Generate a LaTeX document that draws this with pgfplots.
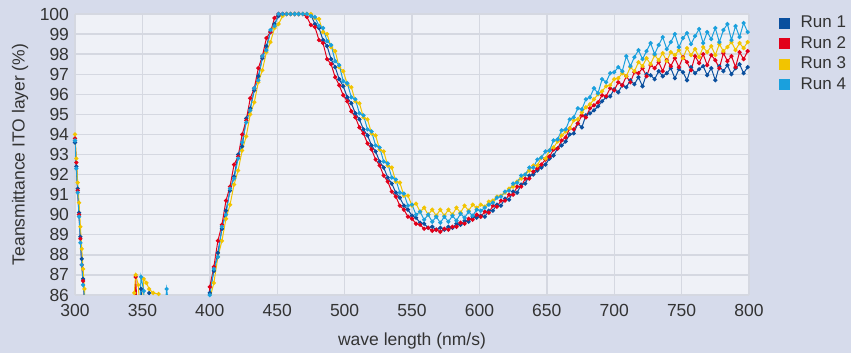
\documentclass[border=0pt]{standalone}
\usepackage{pgfplots}
\pgfplotsset{compat=1.18}
\usepackage{pgfplotstable}
\usepackage{fontspec}
\setmainfont{Liberation Sans}
\definecolor{bgout}{RGB}{214,219,235}
\definecolor{bgin}{RGB}{239,241,247}
\definecolor{gridc}{RGB}{213,216,225}
\definecolor{cA}{RGB}{10,79,158}
\definecolor{cB}{RGB}{226,0,26}
\definecolor{cC}{RGB}{242,196,0}
\definecolor{cD}{RGB}{26,160,221}
\definecolor{txt}{RGB}{51,51,51}

\pgfplotstableread{
x r1 r2 r3 r4
300 93.6 93.8 94.0 93.7
301 92.4 92.6 92.8 92.3
302 91.3 91.2 91.6 91.1
303 90.1 90.0 90.6 89.9
304 88.9 88.8 89.4 88.6
305 87.8 87.5 88.3 87.5
306 86.8 86.7 87.3 86.5
307 85.9 85.9 86.3 85.9
308 84 84 85 84
312 84 84 84 84
330 84 84 84 84
342 84 84 84 84
344 84 84 86.1 84
345 84 86.9 87.0 84
347 84 84 86.5 84
349 86.3 84 84 86.9
351 84 84 86.8 86.2
353 84 84 86.6 84
355 86.1 84 86.3 84
358 84 84 86.1 84
362 84 84 86.05 84
365 84 84 84 84
368 84 84 84 86.3
372 84 84 84 84
390 84 84 84 84
397 84 84 84 84
400 86.1 86.4 85.8 86.0
403 87.2 87.4 86.6 87.3
406 88.1 88.7 87.9 87.9
409 89.3 89.5 88.7 89.4
412 90.2 90.7 89.8 90.0
415 91.2 91.4 90.5 91.3
418 91.9 92.5 91.5 91.8
421 93.0 92.9 92.2 92.8
424 93.4 94.0 93.2 93.6
427 94.8 94.7 93.9 94.6
430 95.3 95.8 95.0 95.2
433 96.2 96.3 95.6 96.3
436 96.9 97.3 96.6 96.7
439 97.8 97.9 97.2 97.9
442 98.4 98.8 98.1 98.2
445 99.1 99.1 98.6 99.2
448 99.5 99.8 99.3 99.4
451 99.9 100 99.5 100
454 100 100 99.9 100
457 100 100 100 100
460 100 100 100 100
463 100 100 100 100
466 100 100 100 100
469 100 100 100 100
472 100 99.85 100 100
475 99.95 99.45 100 99.9
478 99.5 99.35 99.8 99.85
481 99.3 98.7 99.75 99.4
484 98.7 98.55 99.1 99.3
487 98.4 97.75 99.0 98.65
490 97.75 97.5 98.35 98.45
493 97.35 96.85 98.15 97.65
496 96.75 96.45 97.35 97.45
499 96.4 95.95 97.15 96.65
502 95.85 95.65 96.5 96.55
505 95.55 95.15 96.35 95.85
508 95.05 94.85 95.65 95.75
511 94.75 94.35 95.55 95.05
514 94.25 94.05 94.85 94.95
517 93.95 93.55 94.75 94.25
520 93.45 93.25 94.05 94.15
523 93.15 92.75 93.95 93.45
526 92.65 92.45 93.25 93.35
529 92.35 91.95 93.15 92.65
532 91.85 91.65 92.45 92.55
535 91.55 91.15 92.35 91.85
538 91.1 90.9 91.65 91.75
541 90.85 90.45 91.6 91.1
544 90.45 90.25 90.95 91.05
547 90.25 89.9 90.95 90.45
550 89.95 89.8 90.45 90.5
553 89.85 89.55 90.55 90.0
556 89.6 89.5 90.15 90.15
559 89.55 89.3 90.35 89.75
562 89.35 89.35 90.0 90.0
565 89.4 89.2 90.25 89.65
568 89.25 89.25 89.95 89.9
571 89.35 89.15 90.25 89.6
574 89.25 89.3 89.95 89.9
577 89.4 89.25 90.25 89.65
580 89.35 89.4 90.0 89.95
583 89.55 89.4 90.35 89.7
586 89.5 89.6 90.1 90.05
589 89.7 89.55 90.45 89.85
592 89.65 89.8 90.2 90.15
595 89.9 89.75 90.5 89.95
598 89.85 90.0 90.35 90.25
601 89.95 89.9 90.5 90.2
604 89.9 90.15 90.4 90.35
607 90.2 90.1 90.65 90.5
610 90.2 90.45 90.7 90.6
613 90.5 90.4 90.9 90.85
616 90.45 90.7 90.95 90.9
619 90.8 90.7 91.1 91.15
622 90.75 91.0 91.3 91.2
625 91.15 91.0 91.4 91.55
628 91.1 91.4 91.65 91.6
631 91.5 91.4 91.8 91.95
634 91.55 91.8 92.0 92.0
637 91.95 91.8 92.2 92.35
640 92.0 92.15 92.45 92.35
643 92.2 92.3 92.45 92.75
646 92.35 92.5 92.85 92.85
649 92.5 92.75 92.8 93.15
652 92.8 92.9 93.2 93.2
655 92.95 93.25 93.35 93.7
658 93.3 93.3 93.65 93.75
661 93.45 93.7 93.95 94.2
664 93.65 93.85 94.15 94.25
667 94.0 94.3 94.3 94.75
670 94.05 94.25 94.7 94.85
673 94.55 94.55 94.75 95.3
676 94.35 94.95 95.1 95.25
679 94.95 94.85 95.35 95.75
682 95.05 95.3 95.5 95.85
685 95.2 95.45 95.75 96.3
688 95.4 95.6 96.0 96.05
691 95.65 95.95 96.15 96.75
694 95.85 95.9 96.4 96.6
697 95.9 96.3 96.45 97.05
700 96.25 96.2 96.75 97.1
703 96.1 96.6 96.8 97.35
706 96.45 96.45 97.05 97.15
709 96.35 96.9 96.9 97.9
712 96.7 96.6 97.35 97.4
715 96.5 97.1 97.15 97.85
718 96.85 97.05 97.6 98.2
721 96.4 97.3 97.4 97.75
724 97.0 96.9 97.8 98.15
727 96.95 97.45 97.5 98.55
730 96.75 97.3 97.95 98.0
733 97.15 97.6 97.7 98.45
736 96.9 97.15 98.05 98.85
739 97.05 97.7 97.65 98.25
742 97.3 97.4 98.1 98.6
745 96.8 97.8 97.95 99.0
748 97.25 97.35 98.2 98.35
751 97.1 97.85 97.8 98.8
754 96.7 97.6 98.3 99.05
757 97.35 97.2 97.95 98.5
760 97.05 97.9 98.25 98.9
763 97.25 97.55 97.85 99.25
766 97.4 98.0 98.35 98.55
769 96.95 97.45 98.1 99.1
772 97.3 97.95 98.4 98.75
775 96.7 97.7 97.95 99.3
778 97.4 97.3 98.5 98.6
781 97.15 98.05 98.15 99.2
784 97.45 97.65 98.35 99.5
787 97.0 97.9 98.6 98.7
790 97.3 97.35 98.2 99.4
793 97.5 98.1 98.55 98.85
796 97.05 97.75 98.3 99.55
799 97.35 98.15 98.6 99.1
}\datatable

\begin{document}
\fontsize{17.5}{21}\selectfont
\begin{tikzpicture}
\fill[bgout] (0,0) rectangle (851pt,353pt);
\path[use as bounding box] (0,0) rectangle (851pt,353pt);
\begin{axis}[
  at={(75pt,58pt)}, anchor=south west,
  scale only axis, width=674pt, height=281pt,
  xmin=300, xmax=800, ymin=86, ymax=100,
  xtick={300,350,...,800}, ytick={86,87,...,100},
  axis background/.style={fill=bgin},
  axis line style={draw=none},
  major tick length=0pt,
  grid=major,
  major grid style={gridc, line width=1.4pt},
  tick label style={font=\fontsize{17.5}{21}\selectfont, text=txt},
  xticklabel style={yshift=-3pt},
  /pgf/number format/assume math mode=true,
  /pgf/number format/1000 sep={},
  xlabel={wave length (nm/s)},
  ylabel={Teansmittance ITO layer (\%)},
  every axis x label/.style={at={(axis description cs:0.5,0)}, yshift=-46pt, anchor=center, font=\fontsize{17.5}{21}\selectfont, text=txt},
  every axis y label/.style={at={(axis description cs:0,0.5)}, xshift=-55pt, rotate=90, anchor=center, font=\fontsize{17.5}{21}\selectfont, text=txt},
  legend style={at={(axis description cs:1.0445,1.0)}, anchor=north west, draw=none, fill=none, font=\fontsize{17}{21}\selectfont, text=txt, row sep=2pt, inner sep=0pt},
  legend cell align=left,
  run/.style={line width=1pt, mark=*, mark size=1.6pt, mark options={solid, draw=none},
    legend image code/.code={\fill[draw=none] (0pt,-5.5pt) rectangle (11pt,5.5pt); \node[draw=none, fill=none, inner sep=0pt, minimum size=0pt] at (19pt,0pt) {};}},
]
\addplot[run, cA, mark options={fill=cA}] table[x=x, y=r1]{\datatable};
\addlegendentry{Run 1}
\addplot[run, cB, mark options={fill=cB}] table[x=x, y=r2]{\datatable};
\addlegendentry{Run 2}
\addplot[run, cC, mark options={fill=cC}] table[x=x, y=r3]{\datatable};
\addlegendentry{Run 3}
\addplot[run, cD, mark options={fill=cD}] table[x=x, y=r4]{\datatable};
\addlegendentry{Run 4}
\end{axis}
\end{tikzpicture}
\end{document}
